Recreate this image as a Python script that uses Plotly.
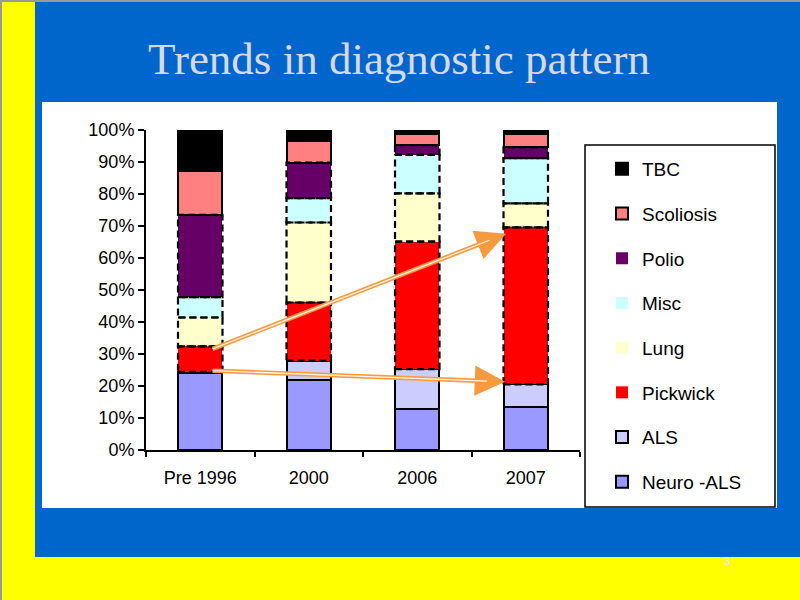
import plotly.graph_objects as go

categories = ["Pre 1996", "2000", "2006", "2007"]
series_names = ["Neuro -ALS", "ALS", "Pickwick", "Lung", "Misc", "Polio", "Scoliosis", "TBC"]
neuro_als = [24.2, 21.8, 12.7, 13.5]
als = [0.2, 6.1, 12.6, 7.0]
pickwick = [8.0, 18.2, 39.8, 49.1]
lung = [9.0, 25.0, 15.1, 7.5]
misc = [6.4, 7.6, 12.0, 14.1]
polio = [25.7, 11.1, 3.1, 3.4]
scoliosis = [13.8, 6.8, 3.5, 4.2]
tbc = [12.7, 3.4, 1.2, 1.2]
y_ticks = [0, 10, 20, 30, 40, 50, 60, 70, 80, 90, 100]

series_values = [neuro_als, als, pickwick, lung, misc, polio, scoliosis, tbc]
colors = ["#9999FF", "#CCCCFF", "#FF0000", "#FFFFCC", "#CCFFFF", "#660066", "#FF8080", "#000000"]
dashed = [False, False, True, True, True, True, False, False]

W, H = 800, 600
L, R, T, B = 146, 580, 130, 450
BAR_W = 0.41


def px(x):
    return (x - L) / (R - L)


def py(y):
    return (B - y) / (B - T)


fig = go.Figure()
n = len(series_names)
for k, (name, vals, col, dsh) in enumerate(zip(series_names, series_values, colors, dashed)):
    fig.add_trace(go.Bar(
        x=categories, y=vals, name=name, legendgroup=name, legendrank=100 * (n - k),
        marker=dict(color=col, line=dict(color="black", width=0 if dsh else 2)),
        width=BAR_W,
    ))

shapes = []
# slide background
shapes.append(dict(type="rect", xref="paper", yref="paper", x0=px(35), x1=px(800), y0=py(0), y1=py(557),
                   fillcolor="#0066CC", line=dict(width=0), layer="below"))
shapes.append(dict(type="rect", xref="paper", yref="paper", x0=px(42), x1=px(777), y0=py(102), y1=py(508),
                   fillcolor="white", line=dict(width=0), layer="below"))
shapes.append(dict(type="line", xref="paper", yref="paper", x0=px(0), x1=px(800), y0=py(1), y1=py(1),
                   line=dict(color="#999999", width=2), layer="below"))
shapes.append(dict(type="line", xref="paper", yref="paper", x0=px(1), x1=px(1), y0=py(0), y1=py(600),
                   line=dict(color="#999999", width=2), layer="below"))
# legend box
shapes.append(dict(type="rect", xref="paper", yref="paper", x0=px(585), x1=px(775), y0=py(145), y1=py(507),
                   fillcolor="rgba(0,0,0,0)", line=dict(color="black", width=1.5), layer="above"))

# dashed outlines for dashed series, derived from the data
cum = [0.0] * len(categories)
for vals, dsh in zip(series_values, dashed):
    for i, v in enumerate(vals):
        if dsh:
            shapes.append(dict(type="rect", xref="x", yref="y", x0=i - BAR_W / 2, x1=i + BAR_W / 2,
                               y0=cum[i], y1=cum[i] + v,
                               line=dict(color="black", width=2.2, dash="7px,4px"), layer="above"))
        cum[i] += v

pick_top = [a + b + c for a, b, c in zip(neuro_als, als, pickwick)]
als_top = [a + b for a, b in zip(neuro_als, als)]

annotations = []
arrows = [
    ((0.1, pick_top[0] - 1.0), (3 - BAR_W / 2 + 0.025, pick_top[3] - 2.0)),
    ((0.1, neuro_als[0] + 0.6), (3 - BAR_W / 2 + 0.015, als_top[3] + 0.8)),
]
for (sx, sy), (tx, ty) in arrows:
    annotations.append(dict(x=tx, y=ty, ax=sx, ay=sy, xref="x", yref="y", axref="x", ayref="y",
                            showarrow=True, arrowhead=2, arrowsize=1.35, arrowwidth=4.5,
                            arrowcolor="#F79A3E", text=""))
    annotations.append(dict(x=tx, y=ty, ax=sx, ay=sy, xref="x", yref="y", axref="x", ayref="y",
                            showarrow=True, arrowhead=0, arrowwidth=1.3, standoff=18,
                            arrowcolor="#FFF3E6", text=""))

annotations.append(dict(text="Trends in diagnostic pattern", xref="paper", yref="paper",
                        x=px(399), y=py(59), showarrow=False, xanchor="center", yanchor="middle",
                        font=dict(family="Liberation Serif", size=45, color="#D8D8E6")))
annotations.append(dict(text="3", xref="paper", yref="paper", x=px(727), y=py(561), showarrow=False,
                        xanchor="center", yanchor="middle",
                        font=dict(family="Liberation Sans", size=11, color="#F0F0F0")))

fig.update_layout(
    width=W, height=H,
    margin=dict(l=L, r=W - R, t=T, b=H - B, pad=0),
    paper_bgcolor="#FFFF00", plot_bgcolor="white",
    barmode="stack", bargap=0.59,
    font=dict(family="Liberation Sans", color="black"),
    shapes=shapes, annotations=annotations,
    showlegend=True,
    legend=dict(x=px(602), y=py(150), xanchor="left", yanchor="top",
                traceorder="grouped", tracegroupgap=17, maxheight=590,
                font=dict(family="Liberation Sans", size=19, color="black"),
                bgcolor="rgba(0,0,0,0)", borderwidth=0, itemclick=False),
    xaxis=dict(type="category", showline=True, linecolor="black", linewidth=2,
               ticks="outside", tickson="boundaries", ticklen=5, tickwidth=2, tickcolor="black",
               tickfont=dict(size=18), showgrid=False, ticklabelstandoff=10, fixedrange=True),
    yaxis=dict(range=[0, 100], tickvals=y_ticks, ticktext=[f"{v}%" for v in y_ticks],
               showline=True, linecolor="black", linewidth=2, ticks="outside", ticklen=6,
               tickwidth=2, tickcolor="black", tickfont=dict(size=18), showgrid=False,
               zeroline=False, fixedrange=True),
)

fig.write_html("out.html")
